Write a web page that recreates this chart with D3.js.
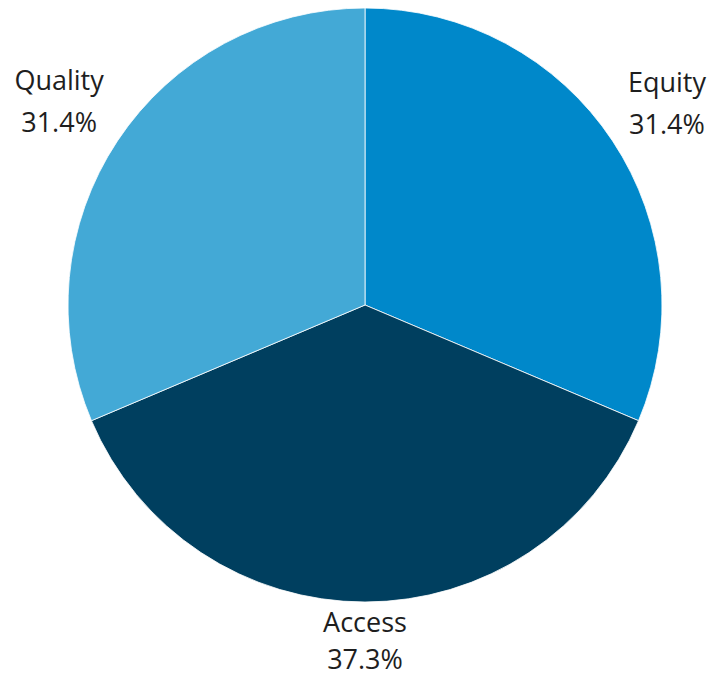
<!DOCTYPE html>
<html>
<head>
<meta charset="utf-8">
<script src="https://cdn.jsdelivr.net/npm/d3@7"></script>
<style>
  html, body { margin: 0; padding: 0; background: #fff; }
  svg { display: block; }
  text { font-family: "Open Sans", "Noto Sans", sans-serif; }
</style>
</head>
<body>
<svg id="chart"></svg>
<script>
// Share of focus areas
const categories = ["Equity", "Access", "Quality"];
const shares = [31.4, 37.3, 31.4];
const shareLabels = ["31.4%", "37.3%", "31.4%"];
const sliceColors = ["#0088ca", "#003f5f", "#43a9d6"];

const width = 707, height = 677;
const cx = 365, cy = 305, radius = 297;
const fontSize = 27;
const lineGap = 42;          // distance between the two label baselines
const minLineGap = 37;       // tightest spacing allowed when a label has to be squeezed
const labelClearance = 312;  // min distance from centre to the nearest edge of a label block

const svg = d3.select("#chart").attr("width", width).attr("height", height);

const data = categories.map((c, i) => ({ name: c, value: shares[i], label: shareLabels[i], color: sliceColors[i] }));

const pie = d3.pie().value(d => d.value).sort(null).startAngle(0).endAngle(2 * Math.PI);
const arc = d3.arc().innerRadius(0).outerRadius(radius);
const arcs = pie(data);

const g = svg.append("g").attr("transform", `translate(${cx},${cy})`);

g.selectAll("path.slice")
  .data(arcs)
  .join("path")
  .attr("class", "slice")
  .attr("d", arc)
  .attr("fill", d => d.data.color)
  .attr("stroke", "#ffffff")
  .attr("stroke-width", 0.8)
  .attr("stroke-linejoin", "round");

// Labels: two lines pushed outward along the slice bisector until clear of the pie
const capH = 0.714 * fontSize;
const desc = 0.1 * fontSize;

arcs.forEach(a => {
  const mid = (a.startAngle + a.endAngle) / 2;
  const ux = Math.sin(mid), uy = -Math.cos(mid);

  const t = svg.append("text")
    .attr("text-anchor", "middle")
    .attr("font-size", fontSize)
    .attr("fill", "#1e1e1e");
  const l1 = t.append("tspan").text(a.data.name);
  const l2 = t.append("tspan").text(a.data.label);

  const w = Math.max(l1.node().getComputedTextLength(), l2.node().getComputedTextLength());
  const hw = w / 2;
  const hh = (capH + lineGap + desc) / 2;

  let dist = radius;
  let bx, by;
  for (; dist < radius + 200; dist += 0.25) {
    bx = ux * dist; by = uy * dist;
    const nx = Math.max(bx - hw, Math.min(0, bx + hw));
    const ny = Math.max(by - hh, Math.min(0, by + hh));
    if (Math.hypot(nx, ny) >= labelClearance) break;
  }

  const x = cx + bx;
  let base1 = cy + by - hh + capH;
  let gap = lineGap;
  // keep the block inside the bottom edge: squeeze the lines first, then lift it
  const maxBase2 = height - 8;
  if (base1 + gap > maxBase2) {
    gap = Math.max(minLineGap, maxBase2 - base1);
    if (base1 + gap > maxBase2) base1 = maxBase2 - gap;
  }

  l1.attr("x", x).attr("y", base1);
  l2.attr("x", x).attr("y", base1 + gap);
});
</script>
</body>
</html>
